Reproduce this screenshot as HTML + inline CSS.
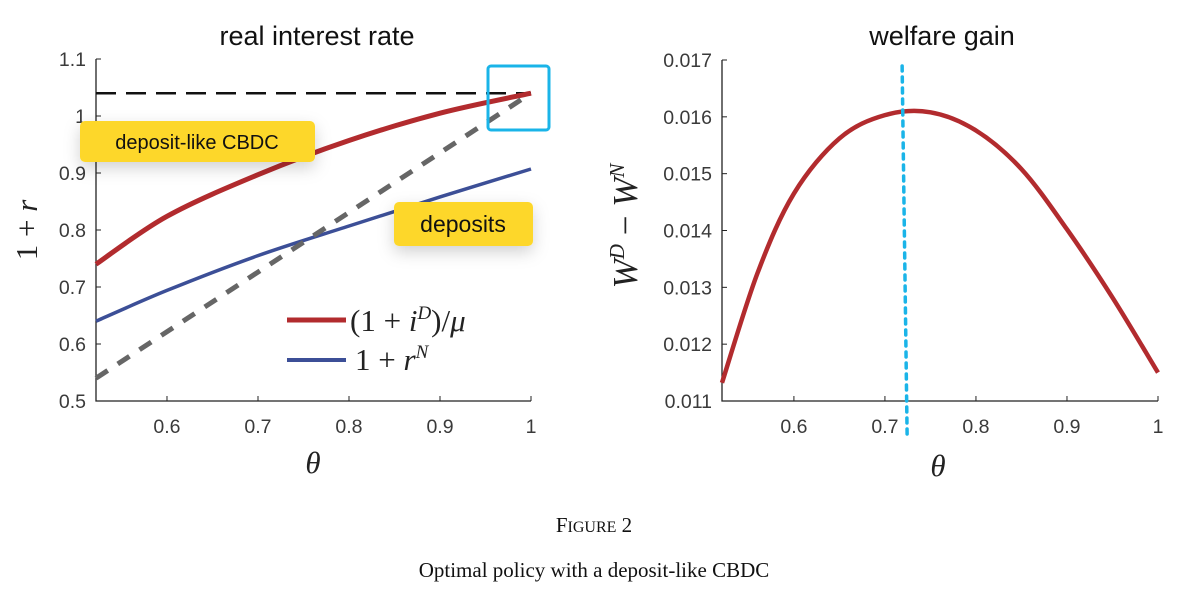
<!DOCTYPE html>
<html><head><meta charset="utf-8"><style>
body{margin:0;background:#fff;width:1188px;height:602px;overflow:hidden}
svg{display:block}
.tk{font-family:"Liberation Sans",sans-serif;font-size:19.5px;fill:#3a3a3a}
.ttl{font-family:"Liberation Sans",sans-serif;font-size:27px;fill:#111}
.mth{font-family:"Liberation Serif",serif;font-style:italic;font-size:31px;fill:#222}
.cap{font-family:"Liberation Serif",serif;font-size:21px;fill:#111}
</style></head><body>
<svg id="fig" width="1188" height="602">
<defs><filter id="sh" x="-20%" y="-40%" width="140%" height="200%"><feDropShadow dx="0" dy="6" stdDeviation="8" flood-color="#000" flood-opacity="0.18"/></filter></defs>
<g id="left"></g>
<g id="right"></g>
<text class="cap" x="594" y="532" text-anchor="middle">F<tspan font-size="16">IGURE</tspan> 2</text>
<text class="cap" x="594" y="577" text-anchor="middle">Optimal policy with a deposit-like CBDC</text>
</svg>
<script>
const thetaL=[0.522,0.6,0.7,0.8,0.9,1.0];
const redL=[0.74,0.824,0.897,0.957,1.005,1.04];
const blueL=[0.64,0.694,0.755,0.807,0.858,0.907];
const grayL=[0.54,1.04];
const grayTheta=[0.522,1.0];
const refRate=[1.04];
const yTicksL=[0.5,0.6,0.7,0.8,0.9,1,1.1];
const xTicks=[0.6,0.7,0.8,0.9,1];
const thetaR=[0.521,0.56,0.6,0.65,0.7,0.75,0.8,0.85,0.9,0.95,1.0];
const welfare=[0.01132,0.01325,0.01465,0.01562,0.01603,0.01608,0.01576,0.01508,0.01402,0.01282,0.0115];
const optTheta=[0.72];
const yTicksR=[0.011,0.012,0.013,0.014,0.015,0.016,0.017];
const NS="http://www.w3.org/2000/svg";
function mk(p,t,a){const e=document.createElementNS(NS,t);for(const k in a)e.setAttribute(k,a[k]);p.appendChild(e);return e;}
function smooth(xs,ys,sx,sy){
  const P=xs.map((x,i)=>[sx(x),sy(ys[i])]);let d="M"+P[0][0]+","+P[0][1];
  for(let i=0;i<P.length-1;i++){const p0=P[i-1]||P[i],p1=P[i],p2=P[i+1],p3=P[i+2]||p2;
    d+=" C"+(p1[0]+(p2[0]-p0[0])/6)+","+(p1[1]+(p2[1]-p0[1])/6)+" "+(p2[0]-(p3[0]-p1[0])/6)+","+(p2[1]-(p3[1]-p1[1])/6)+" "+p2[0]+","+p2[1];}
  return d;}
const L=document.getElementById('left');
const lx0=96,lx1=531,ly0=401,ly1=59;
const sxL=v=>lx0+(v-0.522)/(1-0.522)*(lx1-lx0);
const syL=v=>ly0-(v-0.5)/0.6*(ly0-ly1);
let e;
e=mk(L,'path',{d:`M${lx0},${ly1}V${ly0}H${lx1}`,fill:'none',stroke:'#222','stroke-width':1.3});


yTicksL.forEach(v=>{mk(L,'line',{x1:lx0,x2:lx0+5,y1:syL(v),y2:syL(v),stroke:'#222'});
 e=mk(L,'text',{x:lx0-10,y:syL(v)+7,'text-anchor':'end',class:'tk'});e.textContent=String(v);
 
 });
xTicks.forEach(v=>{mk(L,'line',{x1:sxL(v),x2:sxL(v),y1:ly0,y2:ly0-5,stroke:'#222'});
 e=mk(L,'text',{x:sxL(v),y:ly0+32,'text-anchor':'middle',class:'tk'});e.textContent=String(v);
 
 });
e=mk(L,'line',{x1:lx0,x2:lx1,y1:syL(refRate[0]),y2:syL(refRate[0]),stroke:'#111','stroke-width':2.5,'stroke-dasharray':'20 10'});


e=mk(L,'path',{d:smooth(thetaL,redL,sxL,syL),fill:'none',stroke:'#b22b2e','stroke-width':5});


e=mk(L,'path',{d:smooth(thetaL,blueL,sxL,syL),fill:'none',stroke:'#3c4f97','stroke-width':3.5});


e=mk(L,'line',{x1:sxL(grayTheta[0]),y1:syL(grayL[0]),x2:sxL(grayTheta[1]),y2:syL(grayL[1]),stroke:'#666','stroke-width':5,'stroke-dasharray':'14 12'});


e=mk(L,'line',{x1:287,x2:346,y1:320,y2:320,stroke:'#b22b2e','stroke-width':5});


e=mk(L,'line',{x1:287,x2:346,y1:360,y2:360,stroke:'#3c4f97','stroke-width':4});


e=mk(L,'text',{x:350,y:331,class:'mth'});e.innerHTML='<tspan font-style="normal">(1 + </tspan>i<tspan dy="-12" font-size="19">D</tspan><tspan dy="12" font-style="normal">)/</tspan>μ';


e=mk(L,'text',{x:355,y:370,class:'mth'});e.innerHTML='<tspan font-style="normal">1 + </tspan>r<tspan dy="-12" font-size="19">N</tspan>';


e=mk(L,'text',{x:317,y:45,'text-anchor':'middle',class:'ttl'});e.textContent='real interest rate';


e=mk(L,'text',{x:0,y:0,class:'mth',transform:'translate(37,230) rotate(-90)','text-anchor':'middle'});e.innerHTML='<tspan font-style="normal">1 + </tspan>r';


e=mk(L,'text',{x:313,y:473,'text-anchor':'middle',class:'mth'});e.textContent='θ';


e=mk(L,'rect',{x:80,y:121,width:235,height:41,rx:5,fill:'#fdd72a',filter:'url(#sh)'});


e=mk(L,'text',{x:197,y:149,'text-anchor':'middle',style:'font-family:"Liberation Sans",sans-serif;font-size:20px;fill:#111'});e.textContent='deposit-like CBDC';


e=mk(L,'rect',{x:394,y:202,width:139,height:44,rx:5,fill:'#fdd72a',filter:'url(#sh)'});


e=mk(L,'text',{x:463,y:232,'text-anchor':'middle',style:'font-family:"Liberation Sans",sans-serif;font-size:23px;fill:#111'});e.textContent='deposits';


e=mk(L,'rect',{x:488,y:66,width:61,height:64,rx:3,fill:'none',stroke:'#1ab4e8','stroke-width':3});


const R=document.getElementById('right');
const rx0=722,rx1=1158,ry0=401,ry1=60;
const sxR=v=>rx0+(v-0.521)/(1-0.521)*(rx1-rx0);
const syR=v=>ry0-(v-0.011)/0.006*(ry0-ry1);
e=mk(R,'path',{d:`M${rx0},${ry1}V${ry0}H${rx1}`,fill:'none',stroke:'#222','stroke-width':1.3});


yTicksR.forEach(v=>{mk(R,'line',{x1:rx0,x2:rx0+5,y1:syR(v),y2:syR(v),stroke:'#222'});
 e=mk(R,'text',{x:rx0-10,y:syR(v)+7,'text-anchor':'end',class:'tk'});e.textContent=v.toFixed(3);
 
 });
xTicks.forEach(v=>{mk(R,'line',{x1:sxR(v),x2:sxR(v),y1:ry0,y2:ry0-5,stroke:'#222'});
 e=mk(R,'text',{x:sxR(v),y:ry0+32,'text-anchor':'middle',class:'tk'});e.textContent=String(v);
 
 });
e=mk(R,'path',{d:smooth(thetaR,welfare,sxR,syR),fill:'none',stroke:'#b22b2e','stroke-width':4.5});


e=mk(R,'line',{x1:sxR(optTheta[0])-1,x2:sxR(optTheta[0])+4,y1:66,y2:436,stroke:'#1ab4e8','stroke-width':3.5,'stroke-dasharray':'5 6','stroke-linecap':'round'});


e=mk(R,'text',{x:942,y:45,'text-anchor':'middle',class:'ttl'});e.textContent='welfare gain';


e=mk(R,'text',{x:0,y:0,class:'mth',transform:'translate(637,226) rotate(-90)','text-anchor':'middle',style:'font-size:35px'});e.innerHTML='W<tspan dy="-13" font-size="21">D</tspan><tspan dy="13" font-style="normal"> − </tspan>W<tspan dy="-13" font-size="21">N</tspan>';


e=mk(R,'text',{x:938,y:476,'text-anchor':'middle',class:'mth'});e.textContent='θ';


</script>
</body></html>
